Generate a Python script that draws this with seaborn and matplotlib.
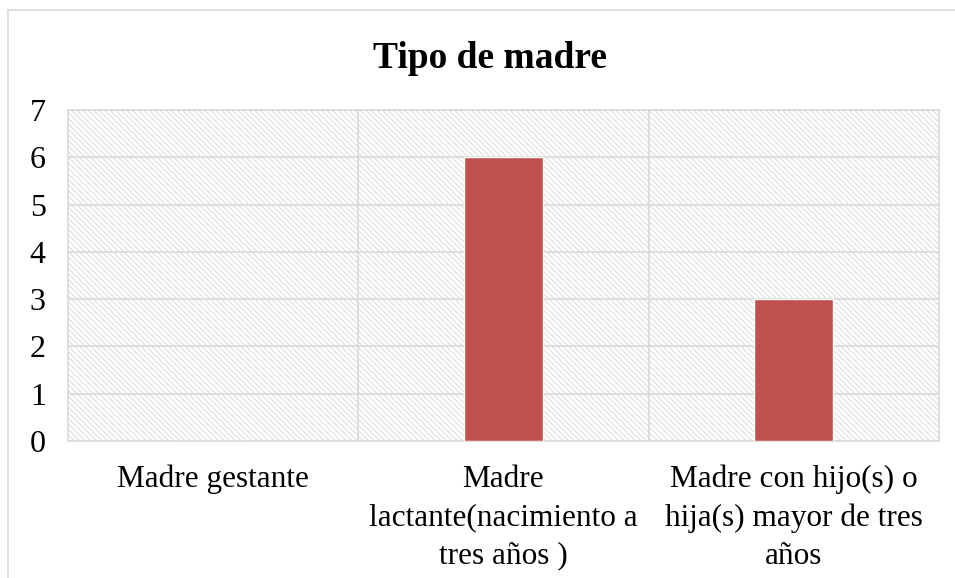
import matplotlib
matplotlib.use('Agg')
import matplotlib.pyplot as plt
import seaborn as sns
import pandas as pd
from matplotlib.patches import Rectangle

# Data
categories = ['Madre gestante',
              'Madre\nlactante(nacimiento a\ntres años )',
              'Madre con hijo(s) o\nhija(s) mayor de tres\naños']
values = [0, 6, 3]
yticks = [0, 1, 2, 3, 4, 5, 6, 7]

df = pd.DataFrame({'tipo': categories, 'n': values})

sns.set_style('white')
plt.rcParams['font.family'] = ['Liberation Serif', 'DejaVu Serif']
plt.rcParams['text.color'] = 'black'
plt.rcParams['xtick.color'] = 'black'
plt.rcParams['ytick.color'] = 'black'
plt.rcParams['hatch.linewidth'] = 0.6

fig = plt.figure(figsize=(9.55, 5.78), dpi=100)
ax = fig.add_axes([0.0712, 0.237, 0.9118, 0.5727])

# hatched plot area background
ax.add_patch(Rectangle((0, 0), 1, 1, transform=ax.transAxes, facecolor='white',
                       edgecolor='#d4d4d4', hatch='\\\\\\\\\\\\', lw=0, zorder=0))

sns.barplot(data=df, x='tipo', y='n', color='#C0504D', width=0.27,
            saturation=1, ax=ax, zorder=3)

ax.set_ylim(0, 7)
ax.set_xlim(-0.5, 2.5)
ax.set_yticks(yticks)
ax.set_yticklabels([str(v) for v in yticks])
for y in yticks:
    ax.axhline(y, color='#d9d9d9', lw=1.2, zorder=1)
for x in [0.5, 1.5]:
    ax.axvline(x, color='#d9d9d9', lw=1.2, zorder=1)

for s in ax.spines.values():
    s.set_color('#d9d9d9')
    s.set_linewidth(1.2)

ax.tick_params(axis='y', length=0, pad=16, labelsize=23)
ax.tick_params(axis='x', length=0, pad=17, labelsize=22.5)
for lbl in ax.get_xticklabels():
    lbl.set_linespacing(1.42)
ax.set_xlabel('')
ax.set_ylabel('')

fig.text(0.5126, 0.898, 'Tipo de madre', ha='center', va='center',
         fontsize=27, fontweight='bold')

# outer chart border (left and top visible)
fig.patches.append(Rectangle((0.008, -0.1), 1.2, 1.083, transform=fig.transFigure,
                             fill=False, edgecolor='#d9d9d9', lw=1.2))

fig.savefig('out.png', dpi=100)
